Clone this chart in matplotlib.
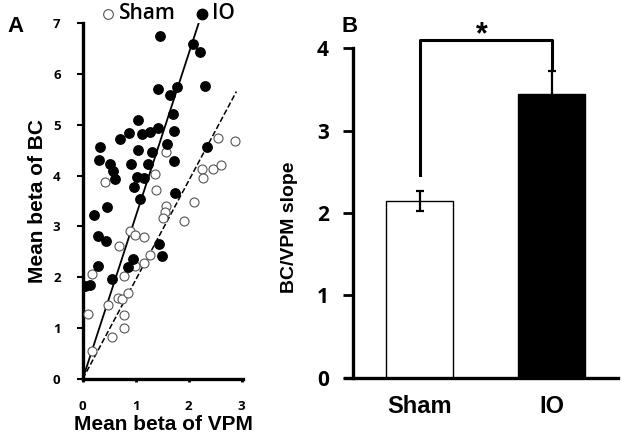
import matplotlib.pyplot as plt
from matplotlib.lines import Line2D
import numpy as np

# panel A: mean beta of VPM (x) vs mean beta of BC (y)
sham_x = [2.56, 2.87, 1.58, 1.36, 2.26, 2.46, 2.61, 2.27, 0.42, 1.38, 2.10, 1.57, 1.56, 1.51,
          1.92, 0.89, 0.99, 1.16, 0.68, 1.27, 1.16, 0.98, 0.17, 0.77, 0.66, 0.74, 0.85, 0.47,
          0.78, 0.10, 0.78, 0.55, 0.17]
sham_y = [4.74, 4.69, 4.46, 4.04, 4.13, 4.13, 4.21, 3.95, 3.88, 3.71, 3.49, 3.41, 3.29, 3.16,
          3.11, 2.92, 2.83, 2.80, 2.61, 2.44, 2.28, 2.23, 2.07, 2.03, 1.60, 1.57, 1.69, 1.46,
          1.25, 1.28, 1.00, 0.83, 0.54]
io_x = [1.46, 2.09, 2.21, 2.30, 1.42, 1.78, 1.65, 1.70, 1.04, 1.42, 1.73, 0.87, 1.11, 1.26,
        0.70, 0.33, 2.35, 1.04, 1.30, 1.59, 0.31, 1.73, 0.52, 0.91, 1.23, 0.58, 0.60, 1.02,
        1.16, 0.96, 1.75, 1.08, 0.46, 0.22, 0.28, 0.44, 0.28, 1.44, 1.49, 0.94, 0.85, 0.56,
        0.13, 0.05]
io_y = [6.74, 6.59, 6.43, 5.77, 5.71, 5.74, 5.58, 5.21, 5.09, 4.93, 4.87, 4.84, 4.82, 4.85,
        4.72, 4.57, 4.57, 4.51, 4.46, 4.63, 4.30, 4.28, 4.23, 4.23, 4.22, 4.10, 3.94, 3.98,
        3.96, 3.78, 3.65, 3.54, 3.39, 3.22, 2.81, 2.72, 2.22, 2.65, 2.42, 2.36, 2.20, 1.96,
        1.85, 1.83]
sham_slope = 1.95
io_slope = 3.2
sham_fit_xmax = 2.9
io_fit_xmax = 2.19

# panel B: slopes
groups = ["Sham", "IO"]
slopes = [2.15, 3.44]
slope_err = [0.12, 0.28]

label_font = "Liberation Sans"
tick_font = "Open Sans"

fig = plt.figure(figsize=(6.27, 4.38), dpi=100)

# ---- panel A
ax1 = fig.add_axes([0.132, 0.135, 0.256, 0.812])
ax1.scatter(sham_x, sham_y, s=42, facecolors="white", edgecolors="#555555", linewidths=0.8, zorder=3)
ax1.scatter(io_x, io_y, s=46, color="black", zorder=4)
xs = np.array([0.0, sham_fit_xmax])
ax1.plot(xs, sham_slope * xs, "k--", lw=1.1, zorder=2)
xs = np.array([0.0, io_fit_xmax])
ax1.plot(xs, io_slope * xs, "k-", lw=1.3, zorder=2)
ax1.set_xlim(0, 3.03)
ax1.set_ylim(0, 7)
ax1.set_xticks([0, 1, 2, 3])
ax1.set_yticks(range(8))
for s in ["top", "right"]:
    ax1.spines[s].set_visible(False)
for s in ["left", "bottom"]:
    ax1.spines[s].set_linewidth(2.4)
ax1.tick_params(axis="y", direction="out", length=4, width=1.5, pad=12)
ax1.tick_params(axis="x", direction="out", length=2, width=2, pad=13)
for lab in ax1.get_xticklabels() + ax1.get_yticklabels():
    lab.set_fontfamily(tick_font)
    lab.set_fontweight("bold")
    lab.set_fontsize(9.5)
ax1.set_xlabel("Mean beta of VPM", fontfamily=label_font, fontweight="bold", fontsize=15, labelpad=2)
ax1.set_ylabel("Mean beta of BC", fontfamily=label_font, fontweight="bold", fontsize=15, labelpad=4)

# legend drawn at top
fig.add_artist(Line2D([0.172], [0.969], transform=fig.transFigure, marker="o", markersize=7,
                      markerfacecolor="white", markeredgecolor="#555555", markeredgewidth=0.8, linestyle="none"))
fig.text(0.190, 0.969, "Sham", ha="left", va="center", fontsize=15, fontfamily=tick_font, fontweight="semibold")
fig.add_artist(Line2D([0.322], [0.969], transform=fig.transFigure, marker="o", markersize=7.5,
                      color="black", linestyle="none"))
fig.text(0.338, 0.969, "IO", ha="left", va="center", fontsize=15, fontfamily=tick_font, fontweight="semibold")
fig.text(0.012, 0.94, "A", fontsize=16, fontweight="bold", fontfamily=label_font, va="center")

# ---- panel B
ax2 = fig.add_axes([0.550, 0.137, 0.4354, 0.7534])
pos = np.arange(len(groups))
ax2.bar(pos, slopes, width=0.508, color=["white", "black"], edgecolor="black", linewidth=1.0, zorder=2)
ax2.errorbar(pos, slopes, yerr=slope_err, fmt="none", ecolor="black", elinewidth=1.6,
             capsize=3, capthick=1.6, zorder=3)
ax2.set_xlim(-0.566, 1.50)
ax2.set_ylim(0, 4)
ax2.set_yticks(range(5))
ax2.set_xticks(pos)
ax2.set_xticklabels(groups)
for s in ["top", "right"]:
    ax2.spines[s].set_visible(False)
ax2.spines["left"].set_linewidth(2.4)
ax2.spines["bottom"].set_linewidth(2.4)
ax2.spines["left"].set_position(("data", -0.508))
ax2.tick_params(axis="y", direction="out", length=7, width=2, pad=10)
ax2.tick_params(axis="x", length=0, pad=12)
for lab in ax2.get_yticklabels():
    lab.set_fontfamily(tick_font)
    lab.set_fontweight("bold")
    lab.set_fontsize(15)
for lab in ax2.get_xticklabels():
    lab.set_fontfamily(label_font)
    lab.set_fontweight("bold")
    lab.set_fontsize(17)
ax2.set_ylabel("BC/VPM slope", fontfamily=label_font, fontweight="bold", fontsize=14)
ax2.yaxis.set_label_coords(-0.172, 0.458)

# significance bracket
ax2.plot([0, 0, 1, 1], [2.46, 4.1, 4.1, 3.76], color="black", lw=2.2, clip_on=False)
ax2.text(0.47, 3.97, "*", ha="center", va="bottom", fontsize=22, fontweight="bold", fontfamily=label_font)
fig.text(0.545, 0.94, "B", fontsize=16, fontweight="bold", fontfamily=label_font, va="center")

fig.savefig("out.png", dpi=100)
